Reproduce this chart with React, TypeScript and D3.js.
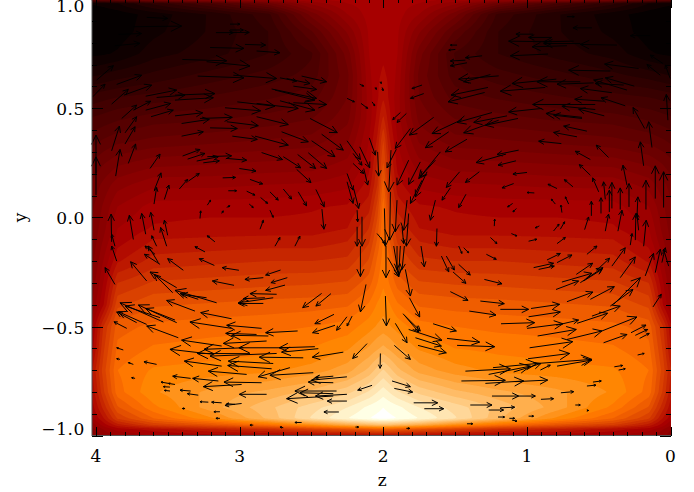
import React, { useMemo } from "react";
import * as d3 from "d3";

// heat surface: index of the red-temperature colour table, rows by y, columns by distance |z-2|
const fieldDist = [0, 0.04, 0.1, 0.25, 0.5, 0.8, 1.2, 1.6, 1.85, 1.95, 2.03];
const fieldY = [1, 0.98, 0.93, 0.85, 0.75, 0.65, 0.55, 0.45, 0.35, 0.25, 0.15, 0.05, -0.05, -0.1, -0.2, -0.3, -0.4, -0.5, -0.6, -0.7, -0.8, -0.87, -0.92, -0.95, -0.97, -1];
const fieldIndex = [
  [115, 115, 115, 115, 115, 110, 110, 100, 90, 85, 80],
  [115, 115, 115, 112, 100, 75, 50, 30, 14, 10, 8],
  [117, 117, 115, 105, 80, 40, 22, 10, 3, 1, 0],
  [117, 117, 113, 92, 62, 35, 22, 12, 3, 1, 0],
  [118, 117, 112, 80, 48, 35, 25, 18, 8, 6, 5],
  [120, 118, 110, 75, 52, 45, 38, 30, 25, 22, 20],
  [125, 118, 108, 77, 60, 55, 50, 45, 42, 40, 38],
  [135, 122, 108, 82, 70, 66, 62, 60, 55, 52, 50],
  [148, 128, 112, 90, 80, 78, 75, 72, 68, 64, 60],
  [155, 135, 116, 100, 93, 92, 90, 88, 82, 76, 70],
  [165, 140, 122, 110, 106, 105, 103, 103, 95, 86, 78],
  [172, 150, 130, 120, 118, 116, 116, 115, 105, 92, 82],
  [175, 158, 140, 126, 122, 122, 122, 120, 112, 95, 85],
  [176, 162, 145, 132, 128, 128, 127, 126, 115, 98, 85],
  [178, 170, 155, 142, 140, 140, 138, 136, 125, 105, 88],
  [181, 175, 165, 155, 153, 152, 150, 148, 140, 112, 92],
  [186, 183, 176, 167, 165, 164, 162, 160, 152, 118, 98],
  [192, 190, 186, 178, 175, 173, 172, 170, 165, 140, 110],
  [205, 202, 197, 188, 182, 180, 178, 176, 170, 145, 115],
  [225, 220, 212, 200, 192, 187, 185, 183, 175, 150, 125],
  [242, 238, 232, 222, 212, 205, 198, 188, 172, 145, 120],
  [252, 250, 247, 238, 228, 215, 200, 180, 160, 135, 115],
  [255, 254, 252, 245, 232, 212, 188, 168, 148, 125, 110],
  [215, 215, 212, 205, 190, 175, 160, 148, 130, 115, 100],
  [165, 165, 162, 158, 150, 140, 132, 122, 115, 105, 95],
  [122, 122, 122, 120, 118, 116, 115, 112, 105, 100, 90],
];

// velocity arrows: tail z, tail y, tip z, tip y
const arrowsUpperLeft = [
  [3.647,.916,3.501,.911],[3.74,.873,3.404,.876],[3.844,.838,3.682,.842],[3.868,.786,3.694,.797],[3.165,.846,3.044,.846],[3.067,.858,2.974,.858],[3.067,.847,2.933,.847],[3.067,.885,2.998,.885],[3.206,.778,2.97,.774],[2.963,.792,2.819,.789],[2.882,.762,2.719,.754],[3.399,.723,3.09,.717],[3.23,.713,2.928,.693],[3.292,.647,2.97,.639],[3.044,.651,2.742,.636],[2.719,.639,2.603,.624],[2.673,.636,2.51,.613],[2.568,.647,2.394,.621],[2.777,.588,2.464,.545],[2.754,.583,2.476,.537],[2.626,.601,2.464,.586],[3.995,.629,3.879,.695],[4.023,.552,3.937,.61],[3.856,.609,3.682,.651],[3.891,.519,3.775,.586],[3.805,.56,3.612,.606],[3.654,.555,3.438,.583],[3.578,.549,3.38,.56],[3.45,.56,3.172,.567],[3.45,.537,3.183,.548],[3.821,.453,3.717,.514],[3.74,.491,3.619,.532],[3.654,.491,3.48,.522],[3.617,.461,3.462,.491],[3.45,.465,3.257,.479],[3.404,.43,3.211,.449],[3.276,.453,3.051,.458],[3.102,.502,2.854,.488],[3.016,.529,2.754,.509],[2.882,.522,2.592,.499],[2.719,.534,2.476,.491],[2.626,.525,2.394,.517],[3.09,.438,2.87,.42],[2.882,.461,2.661,.425],[3.206,.41,3.016,.407],[3.404,.372,3.253,.392],[3.051,.372,2.877,.357],[2.893,.372,2.661,.331],[2.708,.392,2.522,.346],[2.51,.453,2.32,.388],[2.429,.381,2.278,.308],[2.499,.351,2.336,.278],[3.891,.305,3.837,.418],[3.798,.336,3.728,.415],[3.798,.387,3.717,.461],[3.775,.247,3.724,.336],[3.863,.189,3.833,.311],[3.624,.224,3.554,.29],[3.397,.281,3.276,.311],[3.362,.267,3.241,.293],[3.299,.258,3.148,.278],[3.253,.25,3.141,.259],[3.225,.278,3.056,.282],[3.09,.27,2.951,.262],[2.847,.297,2.701,.265],[2.696,.278,2.575,.227],[2.596,.288,2.471,.224],[2.522,.296,2.394,.224],[3.002,.224,2.886,.212],[2.603,.22,2.503,.159],[3.594,.125,3.547,.204],[3.596,.061,3.578,.137],[3.524,.082,3.492,.148],[3.42,.13,3.362,.174],[3.357,.166,3.281,.201],[3.118,.181,3.028,.183],[2.928,.174,2.84,.153],[3.079,.122,3.021,.122],[2.951,.12,2.893,.102],[2.789,.117,2.731,.079],[2.696,.13,2.638,.084],[2.592,.117,2.534,.053],[2.469,.128,2.411,.049],[2.854,.091,2.805,.064],[3.225,.056,3.202,.079],[3.276,-.005,3.271,.03],[3.125,.018,3.114,.03],[3.09,.046,3.067,.053],[2.933,.061,2.905,.045],[2.789,.033,2.766,0],[2.427,.038,2.413,-.054],[2.858,-.054,2.835,-.013],[4,.102,4,.277],[4,.201,4,.377],[3.891,-.112,3.895,.015],[3.74,-.101,3.768,.01],[3.654,-.077,3.682,.018],[3.596,-.059,3.619,.023],[3.501,-.082,3.524,-.013],[3.508,-.132,3.55,-.046],[3.578,-.132,3.612,-.084],[3.868,-.132,3.891,-.077],[3.172,-.112,3.225,-.084],[2.754,-.132,2.719,-.092],[2.615,-.132,2.58,-.086],
];
const arrowsUpperRight = [
  [.721,.919,.67,.919],[.547,.868,.679,.868],[.141,.832,.28,.832],[.957,.839,1.076,.839],[.825,.824,.988,.824],[.825,.804,1.127,.807],[.674,.807,.883,.804],[.373,.789,.628,.792],[.721,.786,.964,.781],[.628,.796,.883,.796],[.853,.748,1.115,.74],[1.312,.74,1.428,.731],[1.417,.708,1.533,.694],[1.428,.72,1.533,.716],[1.486,.789,1.533,.789],[1.498,.769,1.544,.766],[.419,.67,.709,.674],[.222,.682,.459,.702],[.053,.705,.141,.743],[.071,.651,.164,.7],[.002,.636,.036,.697],[1.196,.648,1.475,.633],[1.254,.654,1.44,.621],[1.271,.595,1.528,.56],[1.294,.572,1.549,.529],[.795,.633,1.104,.613],[.628,.621,.93,.621],[.872,.595,1.185,.578],[.535,.616,.79,.61],[.252,.601,.454,.639],[.303,.583,.535,.629],[.408,.571,.628,.59],[.326,.606,.524,.613],[.461,.532,.667,.541],[.315,.511,.484,.548],[.524,.517,.96,.517],[.895,.499,1.127,.483],[.524,.494,.756,.509],[.461,.465,.64,.496],[.616,.458,.867,.476],[.616,.453,.814,.468],[1.243,.48,1.486,.435],[1.138,.465,1.37,.435],[1.062,.453,1.289,.422],[1.196,.445,1.44,.387],[.582,.395,.744,.418],[.651,.369,.814,.389],[.76,.338,.918,.349],[.431,.274,.517,.331],[.558,.265,.663,.303],[1.057,.308,1.208,.288],[1.145,.29,1.354,.251],[1.076,.259,1.201,.239],[.999,.206,1.097,.198],[.558,.193,.635,.242],[.679,.14,.739,.173],[.5,.117,.542,.181],[.79,.132,.853,.152],[1.092,.155,1.173,.135],[.948,.112,.999,.114],[.802,.061,.83,.084],[.709,.061,.732,.094],[1.099,.064,1.134,.048],[1.073,.041,1.097,.025],[.756,.022,.763,.056],[1.227,-.04,1.224,-.008],[.913,-.039,.941,-.048],[.814,-.062,.776,-.031],[.767,-.054,.737,-.02],[.551,.007,.551,.074],[.484,.018,.484,.09],[.454,.083,.466,.163],[.426,.025,.426,.125],[.408,.041,.408,.16],[.35,.036,.35,.135],[.289,.048,.289,.155],[.171,.036,.171,.17],[.106,.086,.106,.236],[.048,.045,.048,.209],[.234,-.005,.227,.094],[.598,-.056,.57,.002],[.454,-.063,.431,.015],[.366,-.063,.338,.033],[.245,-.104,.241,.018],[.222,-.059,.234,.018],[.187,-.132,.169,-.013],[.28,-.127,.268,-.074],[.129,.32,.152,.438],[.18,.407,.261,.503],[.187,.236,.21,.346],[.303,.147,.331,.239],[.018,.445,.029,.563],
];
const arrowsUpperCentre = [
  [2.252,.351,2.159,.265],[2.164,.323,2.094,.227],[2.097,.364,2.055,.285],[2.21,.293,2.148,.239],[2.039,.3,2.032,.189],[1.909,.312,1.974,.227],[2.136,.224,2.108,.148],[2.21,.247,2.136,.201],[2.252,.201,2.21,.125],[1.823,.262,1.904,.148],[1.946,.308,1.962,.117],[1.742,.254,1.823,.151],[1.602,.3,1.753,.178],[1.637,.262,1.742,.186],[1.695,.209,1.776,.094],[1.73,.17,1.811,.064],[1.468,.209,1.561,.137],[1.331,.209,1.428,.16],[1.533,.135,1.591,.079],[1.424,.106,1.475,.045],[1.637,.079,1.672,-.013],[1.649,.458,1.818,.377],[1.811,.407,1.916,.316],[1.544,.392,1.707,.319],[1.417,.358,1.568,.3],[1.452,.448,1.66,.384],[1.839,.476,1.904,.435],[1.881,.48,1.934,.448],[1.718,.567,1.811,.545],[1.73,.606,1.8,.59],[2.252,.545,2.201,.529],[2.155,.522,2.108,.499],[2.078,.529,2.059,.511],[2.055,.595,2.048,.586],[2.008,.595,2.001,.58],[2.02,.621,2.013,.613],[2.164,.61,2.136,.601],[1.904,.079,1.916,-.066],[1.834,.079,1.858,-.059],[1.869,-.043,1.858,-.12],[1.95,.117,1.955,-.104],[1.992,.041,1.985,-.132],[2.206,.132,2.171,.041],[2.252,.163,2.21,.064],[2.182,.033,2.178,-.02],[2.148,.003,2.148,-.132],[2.182,-.043,2.182,-.132],[2.043,-.074,1.985,-.12],[1.626,-.051,1.63,-.132],[1.823,.018,1.839,-.132],[1.254,-.092,1.208,-.12],[1.108,-.074,1.069,-.085],[.988,-.109,.93,-.1],[.79,-.12,.732,-.092],
];
const arrowsLowerRight = [
  [2.159,-.131,2.159,-.271],[1.981,-.131,1.981,-.276],[1.927,-.131,1.892,-.271],[1.881,-.131,1.892,-.261],[1.853,-.131,1.869,-.238],[1.904,-.131,1.904,-.238],[1.969,-.184,1.892,-.271],[1.737,-.131,1.714,-.226],[1.595,-.177,1.544,-.249],[1.561,-.177,1.505,-.241],[1.475,-.215,1.394,-.264],[1.514,-.25,1.424,-.302],[1.475,-.131,1.452,-.165],[1.44,-.139,1.405,-.162],[1.282,-.169,1.213,-.192],[1.296,-.284,1.173,-.304],[1.846,-.238,1.811,-.36],[1.818,-.368,1.746,-.456],[1.533,-.34,1.41,-.38],[1.324,-.383,1.157,-.395],[1.401,-.429,1.215,-.447],[1.185,-.421,.988,-.421],[.971,-.417,.772,-.398],[.988,-.455,.767,-.433],[1.18,-.487,.946,-.482],[.999,-.508,.749,-.487],[.795,-.494,.64,-.47],[.925,-.543,.656,-.513],[.721,-.559,.477,-.52],[.651,-.485,.438,-.439],[.558,-.375,.391,-.317],[.721,-.386,.54,-.342],[.419,-.406,.261,-.33],[.396,-.398,.21,-.276],[.797,-.33,.64,-.291],[.756,-.296,.547,-.256],[.628,-.299,.47,-.23],[.605,-.291,.477,-.238],[.656,-.261,.542,-.21],[.582,-.169,.512,-.131],[.512,-.241,.424,-.187],[.408,-.223,.315,-.139],[.35,-.276,.245,-.181],[.86,-.195,.767,-.165],[.79,-.207,.686,-.172],[.953,-.23,.814,-.21],[.918,-.238,.809,-.223],[.176,-.268,.118,-.165],[.106,-.253,.071,-.146],[.06,-.207,.036,-.139],[.013,-.223,.048,-.146],[.122,-.41,.064,-.352],[.547,-.452,.35,-.406],[.466,-.574,.303,-.536],[.477,-.52,.234,-.456],[.275,-.528,.171,-.493],[.245,-.54,.159,-.513],[.215,-.554,.148,-.531],[.229,-.63,.183,-.623],[.981,-.597,.681,-.569],[.992,-.647,.702,-.623],[.93,-.669,.547,-.65],[.79,-.681,.547,-.653],[1.236,-.688,.93,-.669],[1.428,-.704,1.115,-.693],[1.266,-.719,.976,-.681],[1.092,-.708,.902,-.669],[.906,-.699,.837,-.676],[1.456,-.749,1.15,-.746],[1.289,-.76,1.022,-.749],[1.08,-.752,.855,-.745],[1.243,-.818,1.057,-.818],[1.057,-.818,.941,-.818],[.902,-.833,.814,-.83],[1.394,-.859,1.243,-.859],[1.266,-.882,1.162,-.882],[1.185,-.872,1.085,-.869],[.763,-.803,.674,-.798],[.582,-.772,.519,-.768],[.54,-.754,.482,-.749],[.391,-.684,.333,-.678],[.361,-.699,.315,-.693],[1.201,-.914,1.155,-.914],[1.122,-.92,1.085,-.92],[1.104,-.928,1.069,-.933],[.988,-.91,.953,-.91],[.663,-.859,.628,-.859],[1.417,-.945,1.377,-.945],[.582,-.884,.57,-.884],[1.916,-.485,1.834,-.574],[1.862,-.441,1.753,-.525],[1.846,-.452,1.742,-.52],[1.823,-.513,1.591,-.563],[1.653,-.487,1.491,-.52],[1.776,-.551,1.595,-.589],[1.758,-.586,1.561,-.62],[1.556,-.554,1.329,-.571],[1.486,-.586,1.224,-.592],[2.12,-.307,2.159,-.433],[1.985,-.36,1.978,-.497],[2.113,-.578,2.213,-.646],[1.923,-.586,1.811,-.65],[2.02,-.623,2.022,-.691],[1.939,-.749,1.811,-.775],[1.923,-.783,1.795,-.8],[2.078,-.769,2.178,-.791],[1.788,-.849,1.621,-.849],[1.714,-.876,1.579,-.876],[2.194,-.96,2.171,-.96],[1.839,-.966,1.816,-.966],[2.217,-.452,2.252,-.497],
];
const arrowsLowerLeft = [
  [3.856,-.2,3.891,-.131],[3.868,-.307,3.937,-.23],[3.647,-.291,3.759,-.203],[3.554,-.215,3.663,-.169],[3.589,-.169,3.659,-.131],[3.566,-.207,3.636,-.131],[3.392,-.242,3.501,-.189],[3.176,-.22,3.281,-.189],[3.241,-.158,3.311,-.134],[3.005,-.242,3.121,-.23],[2.835,-.276,2.963,-.284],[2.715,-.241,2.819,-.264],[2.668,-.276,2.782,-.299],[3.039,-.311,3.19,-.291],[2.684,-.31,2.819,-.334],[3.438,-.322,3.624,-.25],[3.466,-.345,3.594,-.261],[2.742,-.352,2.928,-.349],[2.824,-.368,2.974,-.372],[2.766,-.368,3.009,-.391],[2.835,-.394,3.009,-.394],[3.16,-.391,3.45,-.334],[3.23,-.368,3.404,-.352],[3.288,-.375,3.415,-.348],[2.429,-.348,2.561,-.413],[2.364,-.349,2.469,-.406],[3.311,-.429,3.508,-.38],[3.438,-.482,3.705,-.401],[3.45,-.47,3.654,-.417],[3.531,-.479,3.833,-.391],[3.554,-.459,3.798,-.406],[3.647,-.49,3.844,-.432],[3.717,-.482,3.856,-.433],[3.056,-.464,3.271,-.436],[3.786,-.508,3.875,-.478],[3.056,-.508,3.346,-.479],[3.427,-.551,3.647,-.497],[2.847,-.508,3.09,-.494],[2.596,-.52,2.819,-.528],[2.343,-.444,2.476,-.487],[2.336,-.494,2.492,-.528],[2.253,-.455,2.325,-.517],[2.882,-.536,3.097,-.531],[2.812,-.566,3.114,-.577],[2.8,-.543,3.056,-.54],[3.125,-.589,3.404,-.562],[2.476,-.592,2.724,-.597],[2.452,-.601,2.708,-.617],[2.673,-.597,3.005,-.597],[3.183,-.627,3.485,-.604],[2.928,-.624,3.295,-.623],[2.974,-.597,3.248,-.604],[2.742,-.623,3.206,-.635],[2.557,-.643,2.863,-.64],[2.278,-.617,2.494,-.64],[3.125,-.681,3.385,-.658],[2.766,-.669,3.079,-.658],[2.777,-.693,3.083,-.678],[3.81,-.607,3.856,-.597],[3.833,-.65,3.856,-.647],[3.74,-.673,3.775,-.665],[3.578,-.673,3.666,-.661],[3.728,-.737,3.752,-.734],[2.951,-.719,3.218,-.704],[2.487,-.711,2.789,-.723],[2.65,-.688,2.87,-.73],[3.341,-.737,3.466,-.727],[3.148,-.749,3.327,-.737],[2.253,-.73,2.499,-.745],[2.348,-.757,2.522,-.754],[2.348,-.727,2.476,-.734],[2.847,-.757,3.109,-.754],[2.986,-.765,3.253,-.775],[3.496,-.76,3.547,-.754],[3.45,-.765,3.496,-.76],[3.485,-.777,3.531,-.775],[3.485,-.795,3.524,-.792],[3.341,-.795,3.415,-.791],[3.288,-.814,3.364,-.807],[2.812,-.81,3.002,-.81],[2.325,-.795,2.615,-.795],[2.348,-.818,2.673,-.83],[2.348,-.807,2.58,-.803],[2.253,-.841,2.39,-.841],[2.309,-.891,2.413,-.891],[2.986,-.852,3.102,-.861],[3.032,-.856,3.09,-.853],[3.125,-.849,3.195,-.846],[3.218,-.846,3.276,-.844],[3.38,-.875,3.399,-.875],[3.137,-.89,3.179,-.89],[3.137,-.92,3.165,-.92],[2.568,-.939,2.615,-.939],[2.905,-.951,2.928,-.951],[2.696,-.963,2.719,-.96],[2.253,-.81,2.472,-.818],
];

const zMajor = [4, 3, 2, 1, 0];
const zMinor = d3.range(0, 41).map((i) => i / 10);
const yMajor = [-1, -0.5, 0, 0.5, 1];
const yMinor = d3.range(-10, 11).map((i) => i / 10);

const W = 694, H = 492;
const LEFT = 92, RIGHT = 671, BOTTOM = 436;
const FONT = "'DejaVu Serif', serif";

const zScale = d3.scaleLinear().domain([4, 0]).range([96, 670.5]);
const yScale = d3.scaleLinear().domain([-1, 1]).range([435.8, -1]);
const rowOf = d3.scaleLinear().domain(fieldY).range(fieldY.map((_, i) => i)).clamp(true);
const colOf = d3.scaleLinear().domain(fieldDist).range(fieldDist.map((_, i) => i)).clamp(true);

// IDL "red temperature" colour table
const tableColor = (i: number) => {
  const r = Math.min(255, i * 1.45);
  const g = Math.max(0, Math.min(255, (i - 117) * 1.95));
  const b = Math.max(0, Math.min(255, (i - 185) * 3.6));
  return `rgb(${Math.round(r)},${Math.round(g)},${Math.round(b)})`;
};

const sample = (z: number, y: number) => {
  const c = colOf(Math.abs(z - 2));
  const r = rowOf(y);
  const c0 = Math.min(Math.floor(c), fieldDist.length - 2);
  const r0 = Math.min(Math.floor(r), fieldY.length - 2);
  const tc = c - c0, tr = r - r0;
  const a = fieldIndex[r0][c0] * (1 - tc) + fieldIndex[r0][c0 + 1] * tc;
  const b = fieldIndex[r0 + 1][c0] * (1 - tc) + fieldIndex[r0 + 1][c0 + 1] * tc;
  return a * (1 - tr) + b * tr;
};

const arrowPath = ([z0, y0, z1, y1]: number[]) => {
  const x0 = zScale(z0), py0 = yScale(y0), x1 = zScale(z1), py1 = yScale(y1);
  const len = Math.hypot(x1 - x0, py1 - py0);
  const ang = Math.atan2(py1 - py0, x1 - x0);
  const wing = Math.min(12, Math.max(2, len * 0.27));
  const spread = 0.45;
  const ax = x1 - wing * Math.cos(ang - spread), ay = py1 - wing * Math.sin(ang - spread);
  const bx = x1 - wing * Math.cos(ang + spread), by = py1 - wing * Math.sin(ang + spread);
  const path = d3.path();
  path.moveTo(x0, py0);
  path.lineTo(x1, py1);
  path.moveTo(ax, ay);
  path.lineTo(x1, py1);
  path.lineTo(bx, by);
  return path.toString();
};

const yLabelOffset = (v: number) => (v === 1 ? 7 : v === -1 ? -6.5 : v === 0.5 ? 0.7 : 1);

export default function App() {
  const bands = useMemo(() => {
    const nx = RIGHT - LEFT, ny = BOTTOM;
    const values = new Array(nx * ny);
    for (let j = 0; j < ny; j++) {
      const y = yScale.invert(j + 0.5);
      for (let i = 0; i < nx; i++) values[j * nx + i] = sample(zScale.invert(LEFT + i + 0.5), y);
    }
    const levels = d3.range(0, 256, 7);
    const gen = d3.contours().size([nx, ny]).thresholds(levels);
    const geo = d3.geoPath();
    return gen(values).map((c) => ({ d: geo(c) as string, fill: tableColor(c.value + 3.5) }));
  }, []);
  const arrows = [...arrowsUpperLeft, ...arrowsUpperRight, ...arrowsUpperCentre, ...arrowsLowerRight, ...arrowsLowerLeft];
  const axisStyle = { stroke: "#000", strokeWidth: 1, fill: "none" };
  return (
    <svg width={W} height={H} viewBox={`0 0 ${W} ${H}`} style={{ position: "absolute", left: 0, top: 0, background: "#fff" }}>
      <g transform={`translate(${LEFT},0)`}>
        <rect width={RIGHT - LEFT} height={BOTTOM} fill={tableColor(0)} />
        {bands.map((b, i) => (<path key={i} d={b.d} fill={b.fill} />))}
      </g>
      <g {...axisStyle}>
        {arrows.map((a, i) => (<path key={i} d={arrowPath(a)} strokeWidth={1} />))}
      </g>
      <g {...axisStyle}>
        <line x1={LEFT} x2={LEFT} y1={0} y2={BOTTOM} stroke="#555" />
        <line x1={LEFT} x2={RIGHT} y1={BOTTOM - 0.5} y2={BOTTOM - 0.5} stroke="#555" />
        {zMinor.map((v) => {
          const major = zMajor.includes(v);
          const x = Math.round(zScale(v)) + 0.5;
          return (
            <g key={v}>
              <line x1={x} x2={x} y1={BOTTOM} y2={BOTTOM - (major ? 9 : 4)} />
              <line x1={x} x2={x} y1={0} y2={major ? 8 : 3} />
            </g>
          );
        })}
        {yMinor.map((v) => {
          const major = yMajor.some((m) => Math.abs(m - v) < 1e-6);
          const y = Math.round(yScale(v)) + 0.5;
          return (
            <g key={v}>
              <line x1={LEFT} x2={LEFT + (major ? 11 : 5)} y1={y} y2={y} />
              <line x1={RIGHT} x2={RIGHT - (major ? 11 : 5)} y1={y} y2={y} />
            </g>
          );
        })}
      </g>
      <g fontFamily={FONT} fontSize={17} fill="#000">
        {yMajor.map((v) => (
          <text key={v} x={85} y={yScale(v) + yLabelOffset(v)} textAnchor="end" dominantBaseline="central" letterSpacing={0.6}>
            {v < 0 ? "\u2212" + Math.abs(v).toFixed(1) : v.toFixed(1)}
          </text>
        ))}
        {zMajor.map((v) => (
          <text key={v} x={zScale(v)} y={462} textAnchor="middle">{v}</text>
        ))}
        <text x={zScale(2) - 1} y={486} textAnchor="middle">z</text>
        <text transform={`translate(26,${yScale(0)}) rotate(-90)`} textAnchor="middle">y</text>
      </g>
    </svg>
  );
}
